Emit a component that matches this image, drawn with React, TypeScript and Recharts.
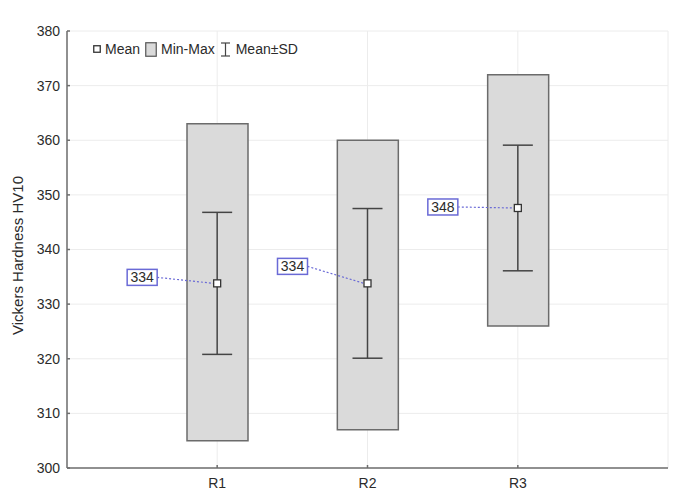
import {
  ComposedChart,
  Bar,
  Scatter,
  ErrorBar,
  XAxis,
  YAxis,
  CartesianGrid,
  Legend,
} from "recharts";

const categories = ["R1", "R2", "R3"];
const minValues = [305, 307, 326];
const maxValues = [363, 360, 372];
const meanValues = [333.8, 333.8, 347.6];
const sdValues = [13.0, 13.7, 11.5];
const yTicks = [300, 310, 320, 330, 340, 350, 360, 370, 380];

// vertical nudge of each mean label box (px)
const labelNudge = [-6, -17, -1];

const chartData = categories.map((name, i) => ({
  name,
  range: [minValues[i], maxValues[i]],
  mean: meanValues[i],
  sd: sdValues[i],
}));

const AXIS = "#6e6e6e";
const TEXT = "#2b2b2b";
const BLUE = "#6a6ad6";

function MeanMarker(props: any) {
  const { cx, cy, payload } = props;
  if (cx == null || cy == null) return null;
  const i = categories.indexOf(payload.name);
  const lx = cx - 75;
  const ly = cy + (labelNudge[i] ?? 0);
  return (
    <g>
      <line
        x1={lx + 15}
        y1={ly}
        x2={cx - 3.5}
        y2={cy}
        stroke={BLUE}
        strokeWidth={1.2}
        strokeDasharray="2 2"
      />
      <rect x={lx - 15} y={ly - 8} width={30} height={16} fill="#fff" stroke={BLUE} strokeWidth={1.5} />
      <text x={lx} y={ly + 5} textAnchor="middle" fontSize={14} fill={TEXT}>
        {Math.round(payload.mean)}
      </text>
      <rect x={cx - 3.5} y={cy - 3.5} width={7} height={7} fill="#fff" stroke="#333" strokeWidth={1.3} />
    </g>
  );
}

function YTitle(props: any) {
  const vb = props.viewBox || {};
  const x = 17;
  const y = (vb.y ?? 15) + (vb.height ?? 453) / 2 + 6;
  return (
    <text
      x={x}
      y={y}
      transform={`rotate(-90, ${x}, ${y})`}
      textAnchor="middle"
      dominantBaseline="central"
      fontSize={15}
      fill={TEXT}
    >
      Vickers Hardness HV10
    </text>
  );
}

function LegendBox() {
  return (
    <div style={{ display: "flex", alignItems: "center", fontSize: 14, color: TEXT, whiteSpace: "nowrap" }}>
      <svg width={8} height={8} style={{ marginRight: 4 }}>
        <rect x={0.75} y={0.75} width={6.5} height={6.5} fill="#fff" stroke="#333" strokeWidth={1.3} />
      </svg>
      <span style={{ marginRight: 5 }}>Mean</span>
      <svg width={12} height={15} style={{ marginRight: 4 }}>
        <rect x={0.75} y={0.75} width={10.5} height={13.5} fill="#dadada" stroke="#555" strokeWidth={1.2} />
      </svg>
      <span style={{ marginRight: 5 }}>Min-Max</span>
      <svg width={11} height={15} style={{ marginRight: 5 }}>
        <line x1={1} y1={1} x2={10} y2={1} stroke="#444" strokeWidth={1.2} />
        <line x1={5.5} y1={1} x2={5.5} y2={14} stroke="#444" strokeWidth={1.2} />
        <line x1={1} y1={14} x2={10} y2={14} stroke="#444" strokeWidth={1.2} />
      </svg>
      <span>Mean±SD</span>
    </div>
  );
}

export default function App() {
  return (
    <div style={{ position: "absolute", left: 0, top: 0, fontFamily: "'Liberation Sans', Arial, sans-serif" }}>
      <ComposedChart
        width={677}
        height={490}
        data={chartData}
        margin={{ top: 15, right: 9, bottom: 0, left: 0 }}
      >
        <CartesianGrid stroke="#ececec" strokeWidth={1} />
        <XAxis
          dataKey="name"
          height={22}
          padding={{ left: 75, right: 75 }}
          stroke={AXIS}
          strokeWidth={1.5}
          tickSize={-3}
          tickMargin={13}
          tick={{ fill: TEXT, fontSize: 14 }}
        />
        <XAxis
          xAxisId="top"
          dataKey="name"
          orientation="top"
          height={0}
          tick={false}
          tickLine={false}
          stroke={AXIS}
          strokeWidth={1.5}
        />
        <YAxis
          type="number"
          domain={[300, 380]}
          ticks={yTicks}
          width={67}
          stroke={AXIS}
          strokeWidth={1.5}
          tickSize={-3}
          tickMargin={10}
          tick={{ fill: TEXT, fontSize: 14 }}
          label={{ content: <YTitle /> }}
        />
        <YAxis
          yAxisId="right"
          orientation="right"
          width={0}
          domain={[300, 380]}
          tick={false}
          tickLine={false}
          stroke={AXIS}
          strokeWidth={1.5}
        />
        <Legend
          verticalAlign="top"
          align="left"
          content={<LegendBox />}
          wrapperStyle={{ top: 41, left: 93, width: "auto" }}
        />
        <Bar
          dataKey="range"
          barSize={61}
          fill="#dadada"
          stroke="#6b6b6b"
          strokeWidth={1.5}
          isAnimationActive={false}
        />
        <Scatter dataKey="mean" shape={<MeanMarker />} isAnimationActive={false}>
          <ErrorBar dataKey="sd" direction="y" width={15} stroke="#444" strokeWidth={1.5} />
        </Scatter>
      </ComposedChart>
    </div>
  );
}
